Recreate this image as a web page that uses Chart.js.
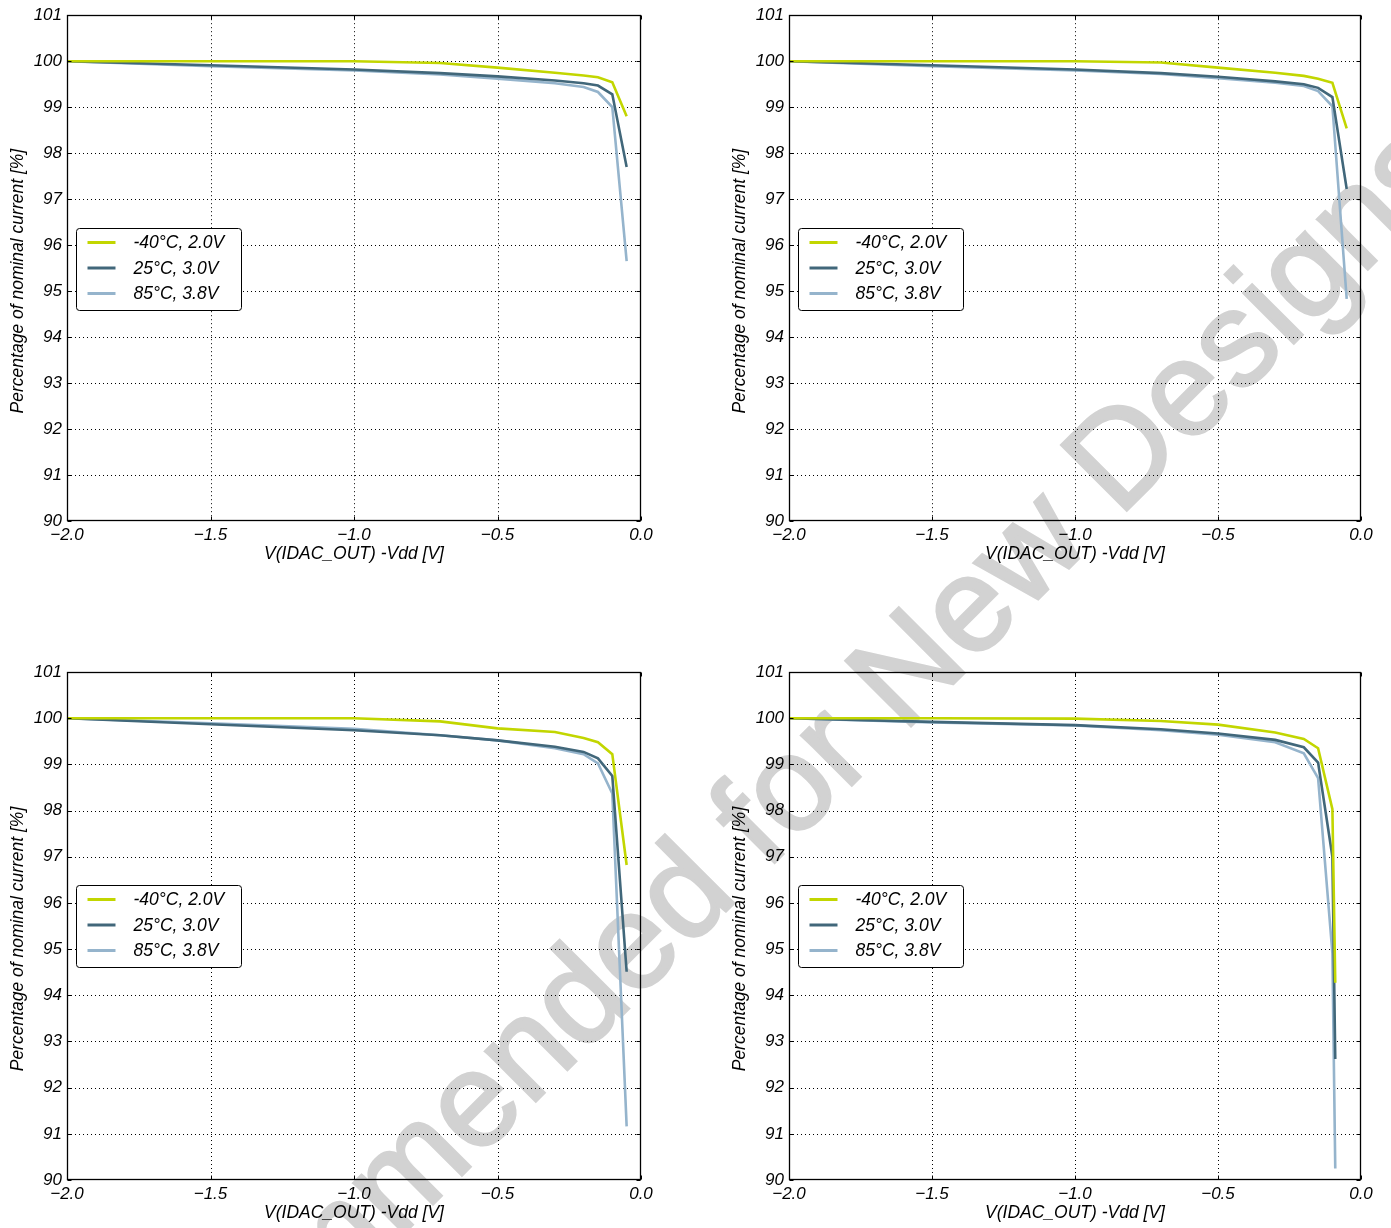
<!DOCTYPE html>
<html>
<head>
<meta charset="utf-8">
<script src="https://cdn.jsdelivr.net/npm/chart.js"></script>
<style>
    html, body { margin: 0; padding: 0; background: #fff; }
    #page { position: relative; width: 1391px; height: 1228px; overflow: hidden; }
    .plot { position: absolute; }
    #watermark {
        position: absolute; left: 660px; top: 912px;
        transform: translate(-50%, -50%) rotate(-45deg);
        font: 134px "Liberation Sans", Arial, sans-serif;
        color: #d2d2d2; -webkit-text-stroke: 3px #d2d2d2;
        white-space: nowrap; line-height: 1;
    }
</style>
</head>
<body>
<div id="page">
    <div id="watermark">Not Recommended for New Designs</div>
    <div class="plot" style="left:0;top:0;width:695px;height:614px"><canvas id="c1"></canvas></div>
    <div class="plot" style="left:695px;top:0;width:696px;height:614px"><canvas id="c2"></canvas></div>
    <div class="plot" style="left:0;top:614px;width:695px;height:614px"><canvas id="c3"></canvas></div>
    <div class="plot" style="left:695px;top:614px;width:696px;height:614px"><canvas id="c4"></canvas></div>
</div>
<script>
// ── data ────────────────────────────────────────────────────
const seriesLabels = ['-40°C, 2.0V', '25°C, 3.0V', '85°C, 3.8V'];
const xTicks = [-2.0, -1.5, -1.0, -0.5, 0.0];
const yTicks = [90, 91, 92, 93, 94, 95, 96, 97, 98, 99, 100, 101];

const voltage   = [-2.0, -1.5, -1.0, -0.7, -0.5, -0.3, -0.2, -0.15, -0.1, -0.05];
const voltageBR = [-2.0, -1.5, -1.0, -0.7, -0.5, -0.3, -0.2, -0.15, -0.1, -0.09];

// top left
const tlCold = [100.0, 100.0, 100.0, 99.96, 99.86, 99.75, 99.69, 99.65, 99.54, 98.80];
const tlRoom = [100.0, 99.91, 99.82, 99.74, 99.67, 99.58, 99.52, 99.47, 99.28, 97.70];
const tlHot  = [100.0, 99.89, 99.80, 99.71, 99.62, 99.52, 99.44, 99.33, 99.00, 95.65];
// top right
const trCold = [100.0, 100.0, 100.0, 99.97, 99.86, 99.75, 99.68, 99.62, 99.53, 98.54];
const trRoom = [100.0, 99.91, 99.82, 99.74, 99.66, 99.56, 99.50, 99.42, 99.22, 97.22];
const trHot  = [100.0, 99.89, 99.80, 99.72, 99.63, 99.53, 99.46, 99.35, 99.02, 94.83];
// bottom left
const blCold = [100.0, 100.0, 100.0, 99.93, 99.78, 99.70, 99.57, 99.48, 99.22, 96.82];
const blRoom = [100.0, 99.87, 99.74, 99.63, 99.52, 99.38, 99.27, 99.13, 98.75, 94.51];
const blHot  = [100.0, 99.89, 99.77, 99.63, 99.52, 99.35, 99.22, 99.02, 98.37, 91.16];
// bottom right
const brCold = [100.0, 100.0, 99.99, 99.94, 99.86, 99.69, 99.55, 99.35, 98.03, 94.27];
const brRoom = [100.0, 99.92, 99.85, 99.76, 99.67, 99.53, 99.37, 99.04, 97.00, 92.62];
const brHot  = [100.0, 99.91, 99.84, 99.74, 99.64, 99.48, 99.24, 98.70, 94.91, 90.25];

const yTitle = 'Percentage of nominal current [%]';
const xTitle = 'V(IDAC_OUT) -Vdd [V]';

// ── styling ─────────────────────────────────────────────────
const seriesColors = ['#c2d600', '#41677a', '#95b4cc'];
const FONT = '"Liberation Sans", Arial, Helvetica, sans-serif';

const fmtX = v => (v < 0 ? '\u2212' : '') + Math.abs(v).toFixed(1);

// dotted grid, inward ticks, box frame and the rotated y label (matplotlib look)
const frameGrid = {
    id: 'frameGrid',
    beforeDatasetsDraw(chart) {
        const { ctx, chartArea: a, scales: { x, y } } = chart;
        ctx.save();
        ctx.strokeStyle = '#000';
        ctx.lineWidth = 1;
        ctx.setLineDash([1, 3]);
        xTicks.forEach(v => {
            const px = Math.round(x.getPixelForValue(v)) + 0.5;
            if (px <= a.left + 1 || px >= a.right - 1) return;
            ctx.beginPath(); ctx.moveTo(px, a.top); ctx.lineTo(px, a.bottom); ctx.stroke();
        });
        yTicks.forEach(v => {
            const py = Math.round(y.getPixelForValue(v)) + 0.5;
            if (py <= a.top + 1 || py >= a.bottom - 1) return;
            ctx.beginPath(); ctx.moveTo(a.left, py); ctx.lineTo(a.right, py); ctx.stroke();
        });
        ctx.restore();
    },
    afterDraw(chart) {
        const { ctx, chartArea: a, scales: { x, y } } = chart;
        const L = Math.round(a.left) + 0.5, R = Math.round(a.right) - 0.5;
        const T = Math.round(a.top) + 0.5, B = Math.round(a.bottom) - 0.5;
        ctx.save();
        ctx.strokeStyle = '#000';
        ctx.lineWidth = 1;
        ctx.beginPath();
        xTicks.forEach(v => {
            const px = Math.round(x.getPixelForValue(v)) + 0.5;
            ctx.moveTo(px, B); ctx.lineTo(px, B - 4);
            ctx.moveTo(px, T); ctx.lineTo(px, T + 4);
        });
        yTicks.forEach(v => {
            const py = Math.round(y.getPixelForValue(v)) + 0.5;
            ctx.moveTo(L, py); ctx.lineTo(L + 4, py);
            ctx.moveTo(R, py); ctx.lineTo(R - 4, py);
        });
        ctx.stroke();
        ctx.lineWidth = 1.3;
        ctx.strokeRect(L, T, R - L, B - T);

        // y axis title, sits a bit below the axes centre like the original
        ctx.translate(a.left - 49, (a.top + a.bottom) / 2 + 13);
        ctx.rotate(-Math.PI / 2);
        ctx.font = 'italic 17.5px ' + FONT;
        ctx.fillStyle = '#000';
        ctx.textAlign = 'center';
        ctx.textBaseline = 'middle';
        ctx.fillText(yTitle, 0, 0);
        ctx.restore();
    }
};

// legend box drawn inside the axes
const innerLegend = {
    id: 'innerLegend',
    afterDatasetsDraw(chart) {
        const { ctx, chartArea: a } = chart;
        const x0 = Math.round(a.left + 9) + 0.5, y0 = Math.round(a.top + 213) + 0.5;
        const w = 165, h = 82;
        ctx.save();
        ctx.beginPath();
        ctx.roundRect(x0, y0, w, h, 3);
        ctx.fillStyle = '#fff';
        ctx.fill();
        ctx.strokeStyle = '#000';
        ctx.lineWidth = 1;
        ctx.stroke();
        ctx.font = 'italic 17.5px ' + FONT;
        ctx.textBaseline = 'middle';
        chart.data.datasets.forEach((ds, i) => {
            const ry = y0 + 14 + i * 25.5;
            ctx.strokeStyle = ds.borderColor;
            ctx.lineWidth = 3;
            ctx.beginPath(); ctx.moveTo(x0 + 11, ry); ctx.lineTo(x0 + 39, ry); ctx.stroke();
            ctx.fillStyle = '#000';
            ctx.fillText(ds.label, x0 + 57, ry + 1);
        });
        ctx.restore();
    }
};

function makePlot(id, xs, series, pad) {
    const datasets = series.map((ys, i) => ({
        label: seriesLabels[i],
        data: xs.map((x, k) => ({ x: x, y: ys[k] })),
        borderColor: seriesColors[i],
        backgroundColor: seriesColors[i],
        borderWidth: 2.6,
        pointRadius: 0,
        tension: 0,
        fill: false
    }));
    return new Chart(document.getElementById(id), {
        type: 'line',
        data: { datasets },
        options: {
            responsive: true,
            maintainAspectRatio: false,
            animation: false,
            layout: { padding: pad },
            plugins: { legend: { display: false }, tooltip: { enabled: false } },
            scales: {
                x: {
                    type: 'linear', min: -2, max: 0,
                    afterBuildTicks: s => { s.ticks = xTicks.map(v => ({ value: v })); },
                    afterFit: s => { s.height = 48; },
                    grid: { display: false, drawTicks: false },
                    border: { display: false },
                    ticks: {
                        color: '#000', padding: 4, maxRotation: 0, autoSkip: false,
                        font: { family: FONT, size: 17, style: 'italic' },
                        callback: v => fmtX(v)
                    },
                    title: {
                        display: true, text: xTitle, color: '#000',
                        padding: { top: 0, bottom: 4 },
                        font: { family: FONT, size: 17.5, style: 'italic' }
                    }
                },
                y: {
                    type: 'linear', min: 90, max: 101,
                    afterBuildTicks: s => { s.ticks = yTicks.map(v => ({ value: v })); },
                    afterFit: s => { s.width = 67; },
                    grid: { display: false, drawTicks: false },
                    border: { display: false },
                    ticks: {
                        color: '#000', padding: 5, autoSkip: false,
                        font: { family: FONT, size: 17, style: 'italic' },
                        callback: v => String(v)
                    },
                    title: { display: false }
                }
            }
        },
        plugins: [frameGrid, innerLegend]
    });
}

makePlot('c1', voltage, [tlCold, tlRoom, tlHot], { left: 0, top: 14, right: 54, bottom: 45 });
makePlot('c2', voltage, [trCold, trRoom, trHot], { left: 27, top: 14, right: 30, bottom: 45 });
makePlot('c3', voltage, [blCold, blRoom, blHot], { left: 0, top: 58, right: 54, bottom: 0 });
makePlot('c4', voltageBR, [brCold, brRoom, brHot], { left: 27, top: 58, right: 30, bottom: 0 });
</script>
</body>
</html>
